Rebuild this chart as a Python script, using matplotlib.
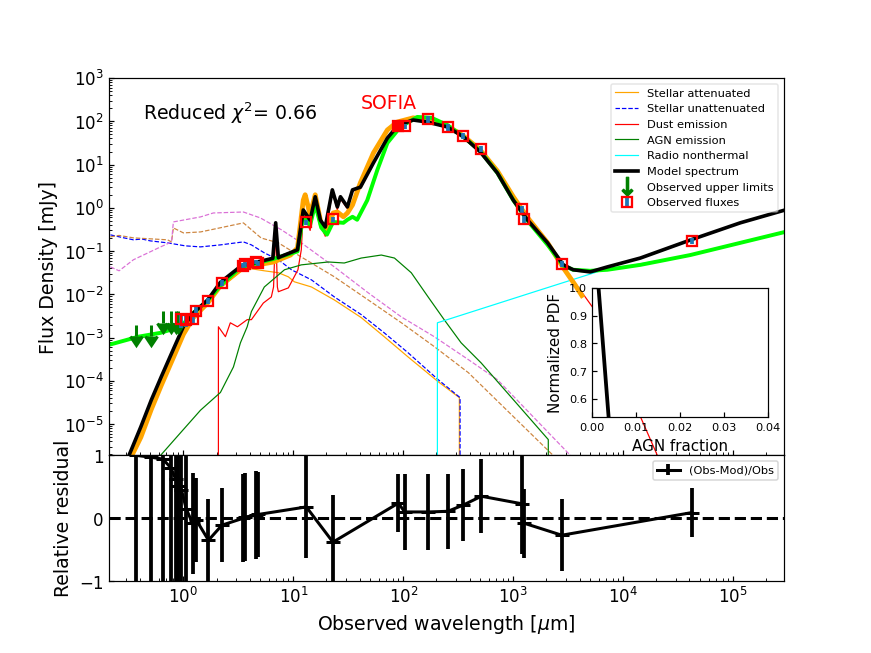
import numpy as np
import matplotlib
matplotlib.use('Agg')
import matplotlib.pyplot as plt
from matplotlib.ticker import LogLocator, NullFormatter
from matplotlib.lines import Line2D

# wavelengths in micron, fluxes in mJy
model_wave = [0.30, 0.32, 0.41, 0.51, 0.63, 0.83, 1.0, 1.23, 1.66, 2.17, 3.3, 4.7, 6.5, 6.9, 7.3, 7.6,
              10.9, 12.3, 14.2, 15.8, 17.6, 19.5, 22.6, 25.1, 26.8, 31, 34.5, 40.7, 53.5, 71.6, 90,
              123, 165, 251, 351, 500, 716, 1000, 1350, 2050, 2850, 3500, 5000, 7160, 14300, 40700,
              116000, 296000]
model_flux = [8e-7, 1.9e-6, 8.7e-6, 3.6e-5, 1.26e-4, 6.2e-4, 1.8e-3, 3.7e-3, 7.4e-3, 0.019, 0.044,
              0.056, 0.068, 0.45, 0.07, 0.074, 0.107, 0.89, 0.52, 1.8, 0.52, 0.36, 2.6, 1.05, 1.8,
              1.05, 2.6, 3.0, 11, 41, 82, 107, 96, 74, 44, 19.7, 6.4, 1.5, 0.52, 0.155, 0.048,
              0.037, 0.033, 0.043, 0.069, 0.18, 0.45, 0.89]

model2_wave = [0.34, 0.41, 0.51, 0.63, 0.83, 1.0, 1.23, 1.66, 2.17, 3.3, 4.7, 6.6, 9.4, 10.9, 12.3,
               12.8, 14.2, 15.8, 17.9, 19.9, 23, 25.1, 28.5, 31, 34.5, 40.7, 53.5, 71.6, 88, 123,
               165, 251, 351, 500, 716, 1000, 1350, 2050, 2850, 3640, 4200]
model2_flux = [1.9e-6, 5e-6, 2.2e-5, 8e-5, 4e-4, 1.2e-3, 2.9e-3, 6.3e-3, 0.0158, 0.037, 0.048, 0.056,
               0.081, 0.118, 1.5, 2.0, 0.69, 2.0, 0.41, 0.28, 0.76, 0.8, 0.62, 0.76, 1.17, 3.8, 18.6,
               63, 96, 120, 107, 78, 46, 21.7, 7.1, 1.8, 0.59, 0.155, 0.041, 0.0166, 0.0094]

model3_wave = [0.21, 0.39, 0.62, 0.94, 1.23, 1.66, 2.17, 3.3, 4.7, 6.6, 10.9, 12.3, 14.2, 15.8, 17.9,
               20.2, 23, 28.5, 31, 34.5, 38, 47, 58, 71.6, 94, 134, 181, 251, 351, 500, 716, 1000,
               1350, 2050, 2850, 3500, 5000, 7160, 14300, 40700, 116000, 296000]
model3_flux = [6.8e-4, 1.05e-3, 1.29e-3, 1.78e-3, 3.7e-3, 7.2e-3, 0.016, 0.042, 0.053, 0.066, 0.098,
               0.65, 0.4, 1.2, 0.35, 0.24, 0.47, 0.45, 0.53, 0.62, 0.53, 1.5, 7.5, 31.6, 74, 126, 120,
               82, 44, 20.5, 6.4, 1.5, 0.5, 0.139, 0.046, 0.037, 0.035, 0.037, 0.048, 0.081, 0.155,
               0.277]

stel_att_wave = [1.0, 2.0, 3.3, 4.15, 5.44, 7.3, 9.0, 10.2, 14.6, 23.6, 41.4, 67, 110, 207, 323, 323]
stel_att_flux = [1.7e-3, 0.012, 0.034, 0.039, 0.035, 0.0316, 0.0254, 0.0195, 0.0148, 0.0074, 2.9e-3,
                 1.05e-3, 3.6e-4, 9.6e-5, 4.1e-5, 1e-8]

stel_unatt_wave = [0.217, 0.28, 0.351, 0.42, 0.50, 0.716, 1.04, 1.43, 2.17, 3.51, 4.15, 5.44, 7.3,
                   9.6, 14.6, 23.6, 41.4, 67, 110, 207, 328, 328]
stel_unatt_flux = [0.237, 0.205, 0.182, 0.19, 0.172, 0.155, 0.132, 0.125, 0.139, 0.163, 0.139, 0.091,
                   0.063, 0.037, 0.0216, 8.7e-3, 3.4e-3, 1.29e-3, 4.5e-4, 1.07e-4, 4.1e-5, 1e-8]

brown_wave = [0.217, 0.26, 0.351, 0.716, 0.78, 0.81, 1.0, 1.43, 1.76, 3.51, 5.1, 7.3, 11.8, 23.6, 48,
              96, 191, 390, 2300, 3000]
brown_flux = [0.213, 0.23, 0.202, 0.182, 0.163, 0.343, 0.263, 0.277, 0.309, 0.448, 0.20, 0.155,
              0.073, 0.0254, 7.4e-3, 2.2e-3, 6.2e-4, 1.55e-4, 1.9e-6, 6e-7]

violet_wave = [0.217, 0.26, 0.351, 0.62, 0.78, 0.81, 1.43, 1.87, 3.51, 5.0, 7.8, 11.8, 23.6, 48, 96,
               191, 390, 716, 3300, 4500]
violet_flux = [0.043, 0.035, 0.063, 0.125, 0.163, 0.472, 0.616, 0.76, 0.80, 0.585, 0.309, 0.155,
               0.043, 0.0108, 3.0e-3, 1.05e-3, 3.1e-4, 1.07e-4, 1.9e-6, 6e-7]

dust_wave = [2.08, 2.08, 2.41, 2.67, 3.1, 3.8, 4.15, 5.33, 6.3, 6.6, 6.9, 7.15, 7.3, 9.0, 11.0, 11.8,
             12.3, 14.2, 15.8, 17.6, 19.5, 22.6, 25.1, 26.8, 31, 34.5, 40.7, 53.5, 71.6, 90, 123, 165,
             251, 351, 500, 716, 1000, 1350, 2050, 2850, 5240, 20400]
dust_flux = [1e-8, 1.78e-3, 1.05e-3, 2.2e-3, 1.78e-3, 2.6e-3, 2.6e-3, 6.3e-3, 8.7e-3, 0.0148, 0.36,
             0.0148, 0.0115, 0.0141, 0.037, 0.107, 0.75, 0.3, 1.6, 0.4, 0.22, 2.3, 0.9, 1.6, 0.95,
             2.4, 2.8, 10.5, 40, 81, 106, 95, 73, 44, 19.5, 6.3, 1.48, 0.5, 0.15, 0.044, 5.1e-3,
             1.9e-6]

agn_wave = [0.62, 0.94, 1.43, 2.17, 2.85, 3.3, 3.8, 4.15, 5.44, 8.3, 11.8, 20.8, 29, 41.4, 63, 83,
            118, 168, 235, 335, 510, 2080, 2080]
agn_flux = [1.9e-6, 6.3e-6, 2.1e-5, 5.4e-5, 2.1e-4, 7.6e-4, 1.78e-3, 4.0e-3, 0.0148, 0.037, 0.048,
            0.056, 0.053, 0.069, 0.081, 0.069, 0.0316, 8.7e-3, 2.6e-3, 7.6e-4, 2.6e-4, 4.4e-6, 1e-8]

radio_wave = [204, 204, 1750, 6200, 40700, 296000]
radio_flux = [1e-8, 2.2e-3, 0.0126, 0.035, 0.081, 0.277]

# observations
ul_wave = [0.37, 0.51, 0.65, 0.77, 0.85, 0.90]
ul_flux = [2.0e-3, 2.0e-3, 4.2e-3, 4.2e-3, 4.2e-3, 4.2e-3]
ul_err = [0.9e-3, 0.9e-3, 2.0e-3, 2.0e-3, 2.0e-3, 2.0e-3]

obs_wave = [0.96, 1.06, 1.21, 1.31, 1.69, 2.24, 3.5, 3.66, 4.61, 4.79, 13.1, 22.9, 90, 103, 169, 254,
            351, 512, 1195, 1259, 2760, 42000]
obs_flux = [2.7e-3, 2.6e-3, 2.7e-3, 4.2e-3, 7.1e-3, 0.0185, 0.046, 0.050, 0.056, 0.053, 0.47, 0.55,
            78, 78, 112, 74, 46, 23, 0.94, 0.55, 0.050, 0.174]
obs_err = [1.0e-3, 0.8e-3, 0.6e-3, 0.8e-3, 1.2e-3, 2.5e-3, 6e-3, 7e-3, 7e-3, 7e-3, 0.06, 0.07, 10, 10,
           20, 13, 8, 4, 0.17, 0.1, 0.008, 0.03]

sofia_wave = [90]
sofia_flux = [78]

resid_wave = ul_wave + obs_wave
resid = [1.0, 0.97, 0.94, 0.80, 0.62, 0.52, 0.45, 0.15, -0.08, -0.03, -0.35, -0.11, 0.0, 0.02, 0.05,
         0.06, 0.18, -0.38, 0.24, 0.10, 0.10, 0.11, 0.21, 0.35, 0.23, -0.08, -0.27, 0.09]
resid_err = [5.0, 5.0, 5.0, 5.0, 5.0, 5.0, 3.0, 1.5, 0.8, 0.67, 0.65, 0.59, 0.7, 0.7, 0.7, 0.68, 0.82,
             0.75, 0.46, 0.6, 0.6, 0.6, 0.57, 0.59, 0.8, 0.55, 0.57, 0.39]

agn_frac = [0.0, 0.0014, 0.0037, 0.006]
agn_pdf = [1.28, 1.0, 0.535, 0.07]

fig = plt.figure(figsize=(8, 6), dpi=108.9)
gs = fig.add_gridspec(2, 1, height_ratios=[3, 1], hspace=0)
ax1 = fig.add_subplot(gs[0])
ax2 = fig.add_subplot(gs[1], sharex=ax1)

ax1.set_xscale('log')
ax1.set_yscale('log')

# thin components
l_att, = ax1.plot(stel_att_wave, stel_att_flux, color='orange', lw=0.8, label='Stellar attenuated')
l_unatt, = ax1.plot(stel_unatt_wave, stel_unatt_flux, color='blue', lw=0.8, ls='--',
                    label='Stellar unattenuated')
ax1.plot(brown_wave, brown_flux, color='peru', lw=0.8, ls='--')
ax1.plot(violet_wave, violet_flux, color='orchid', lw=0.8, ls='--')
l_dust, = ax1.plot(dust_wave, dust_flux, color='red', lw=0.8, label='Dust emission')
l_agn, = ax1.plot(agn_wave, agn_flux, color='green', lw=0.8, label='AGN emission')
l_radio, = ax1.plot(radio_wave, radio_flux, color='cyan', lw=0.8, label='Radio nonthermal')

# full models
ax1.plot(model2_wave, model2_flux, color='orange', lw=3.2)
ax1.plot(model3_wave, model3_flux, color='lime', lw=2.6)
l_model, = ax1.plot(model_wave, model_flux, color='black', lw=2.4, label='Model spectrum')

# observations
eb_ul = ax1.errorbar(ul_wave, ul_flux, yerr=ul_err, uplims=True, ls='', color='green',
                     elinewidth=2, capsize=0)
for c in eb_ul[1]:
    c.set_markersize(8)
    c.set_markeredgewidth(2)
ul_proxy = Line2D([], [], color='green', marker=r'$\downarrow$', ls='', ms=12)

eb_obs = ax1.errorbar(obs_wave, obs_flux, yerr=obs_err, ls='', marker='s', ms=7, mfc='none',
                      mec='red', mew=1.5, ecolor='C0', elinewidth=2.5, capsize=0,
                      label='Observed fluxes')
ax1.plot(sofia_wave, sofia_flux, ls='', marker='s', ms=7, color='red')
ax1.text(73, 265, 'SOFIA', color='red', ha='center', va='center', fontsize=12.5)
ax1.text(0.05, 0.907, r'Reduced $\chi^2$= 0.66', transform=ax1.transAxes, va='center',
         fontsize=12.5)

ax1.set_xlim(0.21, 2.9e5)
ax1.set_ylim(1.9e-6, 1e3)
ax1.yaxis.set_major_locator(LogLocator(base=10, numticks=20))
ax1.yaxis.set_minor_locator(LogLocator(base=10, subs=np.arange(2, 10), numticks=20))
ax1.yaxis.set_minor_formatter(NullFormatter())
ax1.set_ylabel('Flux Density [mJy]', fontsize=12.5)
ax1.tick_params(which='both', direction='in', labelsize=11)
ax1.tick_params(axis='x', which='both', labelbottom=False)

ax1.legend([l_att, l_unatt, l_dust, l_agn, l_radio, l_model, ul_proxy, eb_obs],
           ['Stellar attenuated', 'Stellar unattenuated', 'Dust emission', 'AGN emission',
            'Radio nonthermal', 'Model spectrum', 'Observed upper limits', 'Observed fluxes'],
           loc='upper right', fontsize=7.5, framealpha=0.5)

# residuals
ax2.errorbar(resid_wave, resid, yerr=resid_err, color='black', lw=2, elinewidth=2.5, marker='_',
             ms=9, mew=2, capsize=0, label='(Obs-Mod)/Obs')
ax2.axhline(0, color='black', ls='--', lw=2)
ax2.set_ylim(-1, 1)
ax2.set_yticks([-1, 0, 1])
ax2.xaxis.set_major_locator(LogLocator(base=10, numticks=20))
ax2.xaxis.set_minor_locator(LogLocator(base=10, subs=np.arange(2, 10), numticks=20))
ax2.xaxis.set_minor_formatter(NullFormatter())
ax2.tick_params(which='both', direction='in', labelsize=11)
ax2.set_xlabel(r'Observed wavelength [$\mu$m]', fontsize=12.5)
ax2.set_ylabel('Relative residual', fontsize=12.5)
ax2.legend(loc='upper right', fontsize=7.5)

# inset: AGN fraction PDF
ax3 = fig.add_axes([0.680, 0.361, 0.201, 0.198])
ax3.plot(agn_frac, agn_pdf, color='black', lw=2.5)
ax3.set_xlim(0, 0.04)
ax3.set_ylim(0.535, 1.0)
ax3.set_xticks([0.0, 0.01, 0.02, 0.03, 0.04])
ax3.set_yticks([0.6, 0.7, 0.8, 0.9, 1.0])
ax3.tick_params(direction='in', labelsize=7.5)
ax3.set_xlabel('AGN fraction', fontsize=10)
ax3.set_ylabel('Normalized PDF', fontsize=10)

fig.savefig('out.png', dpi=108.9)
